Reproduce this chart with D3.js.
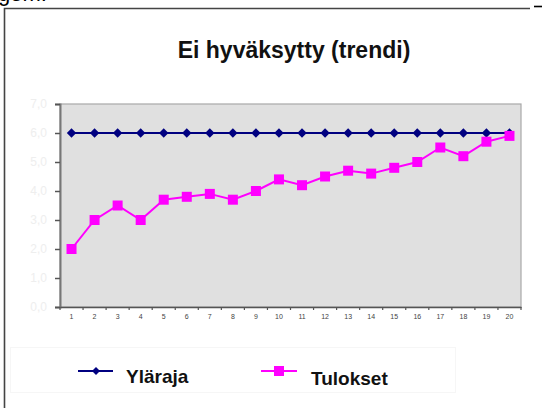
<!DOCTYPE html>
<meta charset="utf-8">
<script src="https://d3js.org/d3.v7.min.js"></script>
<style>
  body { margin: 0; background: #fff; }
  text { font-family: Arial, "Liberation Sans", sans-serif; }
</style>
<div id="chart"></div>
<script>
  // data
  const categories = d3.range(1, 21).map(String);
  const ylaraja = [6, 6, 6, 6, 6, 6, 6, 6, 6, 6, 6, 6, 6, 6, 6, 6, 6, 6, 6, 6];
  const tulokset = [2.0, 3.0, 3.5, 3.0, 3.7, 3.8, 3.9, 3.7, 4.0, 4.4, 4.2, 4.5, 4.7, 4.6, 4.8, 5.0, 5.5, 5.2, 5.7, 5.9];
  const yTicks = [0, 1, 2, 3, 4, 5, 6, 7];

  const W = 542, H = 408;
  const plot = { left: 60, top: 104, right: 521, bottom: 307 };

  const svg = d3.select("#chart").append("svg")
    .attr("width", W).attr("height", H);

  // cropped page text + frame
  svg.append("text").attr("x", -2).attr("y", 1)
    .attr("font-size", 22).attr("fill", "#000").text("gem.");
  svg.append("path").attr("d", "M4.5,408 V8.5 H530")
    .attr("fill", "none").attr("stroke", "#444").attr("stroke-width", 1.6);
  svg.append("line").attr("x1", 534).attr("x2", 542).attr("y1", 6.5).attr("y2", 6.5)
    .attr("stroke", "#000").attr("stroke-width", 1.6);

  // title
  svg.append("text").attr("x", 294).attr("y", 58)
    .attr("text-anchor", "middle").attr("font-size", 23).attr("font-weight", "bold")
    .attr("fill", "#111")
    .text("Ei hyväksytty (trendi)");

  const x = d3.scaleBand().domain(categories).range([plot.left, plot.right]);
  const y = d3.scaleLinear().domain([0, 7]).range([plot.bottom, plot.top]);

  // plot area
  svg.append("rect")
    .attr("x", plot.left).attr("y", plot.top)
    .attr("width", plot.right - plot.left).attr("height", plot.bottom - plot.top)
    .attr("fill", "#e0e0e0").attr("stroke", "#a8a8a8").attr("stroke-width", 1.2);

  // y axis
  const yAxis = svg.append("g")
    .attr("transform", `translate(${plot.left},0)`)
    .call(d3.axisLeft(y).tickValues(yTicks).tickSize(5).tickPadding(8)
      .tickFormat(d => d3.format(".1f")(d).replace(".", ",")));
  yAxis.select(".domain").attr("stroke", "#777").attr("stroke-width", 2);
  yAxis.selectAll(".tick line").attr("stroke", "#555").attr("stroke-width", 1.5);
  yAxis.selectAll("text").attr("fill", "#eeeeee").attr("font-size", 12)
    .attr("font-family", "Arial, sans-serif");

  // x axis
  const xAxis = svg.append("g")
    .attr("transform", `translate(0,${plot.bottom})`)
    .call(d3.axisBottom(x).tickSize(0).tickPadding(7));
  xAxis.select(".domain").attr("stroke", "#555").attr("stroke-width", 1.5);
  xAxis.selectAll("text").attr("fill", "#444").attr("font-size", 7)
    .attr("font-family", "Arial, sans-serif");
  // tick marks between categories
  xAxis.selectAll(".sep")
    .data(categories.concat(["end"]))
    .join("line")
    .attr("class", "sep")
    .attr("x1", (d, i) => plot.left + i * x.bandwidth())
    .attr("x2", (d, i) => plot.left + i * x.bandwidth())
    .attr("y1", 0).attr("y2", 3)
    .attr("stroke", "#555").attr("stroke-width", 1.2);

  const cx = d => x(d) + x.bandwidth() / 2;
  const line = d3.line().x(d => cx(d.c)).y(d => y(d.v));

  const s1 = categories.map((c, i) => ({ c, v: ylaraja[i] }));
  const s2 = categories.map((c, i) => ({ c, v: tulokset[i] }));

  // Yläraja
  svg.append("path").datum(s1).attr("d", line)
    .attr("fill", "none").attr("stroke", "#000080").attr("stroke-width", 2);
  svg.selectAll(".dia").data(s1).join("path")
    .attr("class", "dia")
    .attr("transform", d => `translate(${cx(d.c)},${y(d.v)}) rotate(45)`)
    .attr("d", d3.symbol().type(d3.symbolSquare).size(44))
    .attr("fill", "#000080");

  // Tulokset
  svg.append("path").datum(s2).attr("d", line)
    .attr("fill", "none").attr("stroke", "#ff00ff").attr("stroke-width", 2);
  svg.selectAll(".sq").data(s2).join("rect")
    .attr("class", "sq")
    .attr("x", d => cx(d.c) - 5).attr("y", d => y(d.v) - 5)
    .attr("width", 10).attr("height", 10)
    .attr("fill", "#ff00ff");

  // legend
  svg.append("rect").attr("x", 10.5).attr("y", 347.5).attr("width", 445).attr("height", 45)
    .attr("fill", "none").attr("stroke", "#f6f6f6");

  const lg = svg.append("g");
  lg.append("line").attr("x1", 78).attr("x2", 113).attr("y1", 371).attr("y2", 371)
    .attr("stroke", "#000080").attr("stroke-width", 2);
  lg.append("path").attr("transform", "translate(96,371) rotate(45)")
    .attr("d", d3.symbol().type(d3.symbolSquare).size(32)).attr("fill", "#000080");
  lg.append("text").attr("x", 126).attr("y", 383)
    .attr("font-size", 19).attr("font-weight", "bold").attr("fill", "#111").text("Yläraja");

  lg.append("line").attr("x1", 261).attr("x2", 297).attr("y1", 371).attr("y2", 371)
    .attr("stroke", "#ff00ff").attr("stroke-width", 2);
  lg.append("rect").attr("x", 274).attr("y", 366).attr("width", 10).attr("height", 10)
    .attr("fill", "#ff00ff");
  lg.append("text").attr("x", 311).attr("y", 385)
    .attr("font-size", 19).attr("font-weight", "bold").attr("fill", "#111").text("Tulokset");
</script>
